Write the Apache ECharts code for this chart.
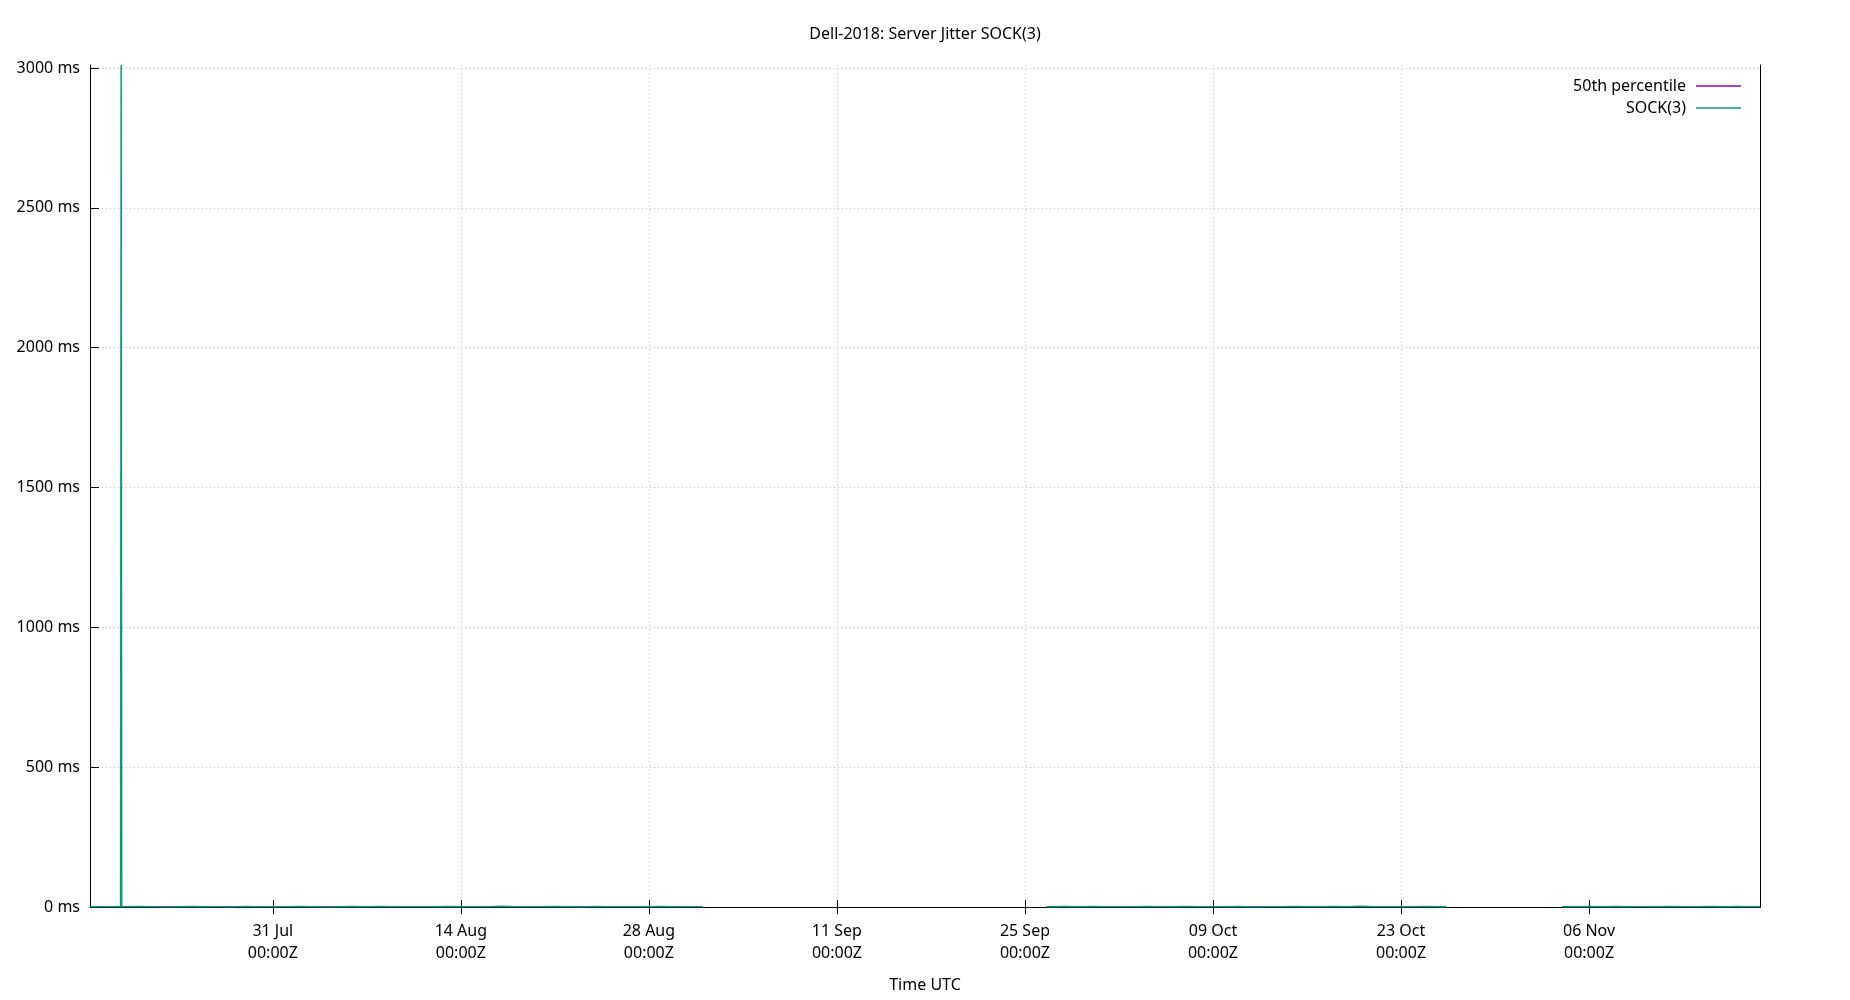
<!DOCTYPE html>
<html>
<head>
<meta charset="utf-8">
<title>Dell-2018: Server Jitter SOCK(3)</title>
<script src="https://cdn.jsdelivr.net/npm/echarts@6/dist/echarts.min.js"></script>
<style>
  html, body { margin: 0; padding: 0; background: #fff; }
  #chart { width: 1850px; height: 1000px; }
</style>
</head>
<body>
<div id="chart"></div>
<script>
// x ticks, every 14 days at 00:00 UTC
var tickDates = ['07-31', '08-14', '08-28', '09-11', '09-25', '10-09', '10-23', '11-06']
var tickLabels = ['31 Jul\n00:00Z', '14 Aug\n00:00Z', '28 Aug\n00:00Z', '11 Sep\n00:00Z',
                  '25 Sep\n00:00Z', '09 Oct\n00:00Z', '23 Oct\n00:00Z', '06 Nov\n00:00Z']

// SOCK(3) samples, 2018, UTC (null = no data)
var sockTimes = [
  '07-17 09:20', '07-18 00:00', '07-19 00:00', '07-19 16:00', '07-19 17:00', '07-19 18:00',
  '07-20 00:00', '07-21 00:00', '07-22 00:00', '07-23 00:00', '07-24 00:00', '07-25 00:00',
  '07-26 00:00', '07-27 00:00', '07-28 00:00', '07-29 00:00', '07-30 00:00', '07-31 00:00',
  '08-01 00:00', '08-02 00:00', '08-03 00:00', '08-04 00:00', '08-05 00:00', '08-06 00:00',
  '08-07 00:00', '08-08 00:00', '08-09 00:00', '08-10 00:00', '08-11 00:00', '08-12 00:00',
  '08-13 00:00', '08-14 00:00', '08-15 00:00', '08-16 00:00', '08-17 00:00', '08-18 00:00',
  '08-19 00:00', '08-20 00:00', '08-21 00:00', '08-22 00:00', '08-23 00:00', '08-24 00:00',
  '08-25 00:00', '08-26 00:00', '08-27 00:00', '08-28 00:00', '08-29 00:00', '08-30 00:00',
  '08-31 00:00', '09-01 00:00',
  '09-12 00:00',
  '09-26 15:00', '09-27 00:00', '09-28 00:00', '09-29 00:00', '09-30 00:00',
  '10-01 00:00', '10-02 00:00', '10-03 00:00', '10-04 00:00', '10-05 00:00', '10-06 00:00',
  '10-07 00:00', '10-08 00:00', '10-09 00:00', '10-10 00:00', '10-11 00:00', '10-12 00:00',
  '10-13 00:00', '10-14 00:00', '10-15 00:00', '10-16 00:00', '10-17 00:00', '10-18 00:00',
  '10-19 00:00', '10-20 00:00', '10-21 00:00', '10-22 00:00', '10-23 00:00', '10-24 00:00',
  '10-25 00:00', '10-26 00:00', '10-26 08:40',
  '10-30 00:00',
  '11-04 00:00', '11-05 00:00', '11-06 00:00', '11-07 00:00', '11-08 00:00', '11-09 00:00',
  '11-10 00:00', '11-11 00:00', '11-12 00:00', '11-13 00:00', '11-14 00:00', '11-15 00:00',
  '11-16 00:00', '11-17 00:00', '11-18 00:00', '11-18 17:30'
]
var sockMs = [
  0.9, 1.3, 0.7, 1.1, 3011, 0.8,
  0.5, 1.6, 0.9, 0.4, 1.2, 2.0,
  0.7, 1.0, 0.3, 1.5, 0.8, 1.1,
  0.6, 1.9, 1.2, 0.4, 0.9, 1.4,
  0.7, 2.2, 1.0, 0.5, 1.3, 0.8,
  1.7, 0.6, 1.1, 0.9, 2.4, 0.5,
  1.2, 0.7, 1.5, 1.0, 0.4, 1.8,
  0.9, 1.3, 0.6, 1.1, 2.0, 0.8,
  1.2, 0.7,
  null,
  1.0, 0.6, 1.4, 0.9, 1.8,
  0.7, 1.2, 0.5, 1.6, 1.0, 0.8,
  2.1, 0.6, 1.3, 0.9, 1.5, 0.4,
  1.1, 0.7, 1.9, 1.2, 0.5, 1.4,
  0.8, 2.3, 1.0, 0.6, 1.3, 0.9,
  1.7, 0.0, 0.8,
  null,
  1.1, 0.6, 1.5, 0.9, 2.0, 0.7,
  1.2, 0.5, 1.6, 1.0, 0.8, 1.4,
  0.6, 1.9, 1.1, 0.9
]
var p50Ms = 0.9

function utc(s) {
  // 'MM-DD HH:MM' -> ms, year 2018
  var p = s.split(/[- :]/)
  return Date.UTC(2018, +p[0] - 1, +p[1], +(p[2] || 0), +(p[3] || 0))
}

var tickValues = tickDates.map(utc)
var xMin = utc(sockTimes[0])
var xMax = utc(sockTimes[sockTimes.length - 1])
var yMax = Math.max.apply(null, sockMs.filter(function (v) { return v !== null }))

var sockData = sockTimes.map(function (t, i) { return [utc(t), sockMs[i]] })
var p50Data = sockTimes.map(function (t, i) { return [utc(t), sockMs[i] === null ? null : p50Ms] })

var font = 'Noto Sans'
var gridLine = { show: true, showMinLine: false, showMaxLine: false,
                 lineStyle: { color: '#c4c4c4', width: 1, type: [1, 3] } }

var chart = echarts.init(document.getElementById('chart'))
var option = {
  animation: false,
  backgroundColor: '#fff',
  textStyle: { fontFamily: font, color: '#000' },
  title: {
    text: 'Dell-2018: Server Jitter SOCK(3)',
    left: 'center',
    top: 24,
    padding: 0,
    textStyle: { fontFamily: font, fontSize: 16, fontWeight: 'normal', color: '#000', lineHeight: 20 }
  },
  legend: {
    orient: 'vertical',
    align: 'right',
    right: 104,
    top: 71,
    icon: 'rect',
    itemWidth: 45,
    itemHeight: 1.5,
    itemGap: 2,
    selectedMode: false,
    textStyle: { fontFamily: font, fontSize: 16, color: '#000', lineHeight: 20, padding: [0, 5, 0, 0] },
    data: ['50th percentile', 'SOCK(3)']
  },
  grid: { left: 90, right: 90, top: 65, bottom: 93, containLabel: false },
  xAxis: [
    {
      type: 'value',
      min: xMin,
      max: xMax,
      name: 'Time UTC',
      nameLocation: 'middle',
      nameGap: 70,
      nameTextStyle: { fontFamily: font, fontSize: 16, color: '#000' },
      axisLine: { show: true, lineStyle: { color: '#000', width: 1 } },
      axisTick: { show: true, inside: true, length: 7, customValues: tickValues,
                  lineStyle: { color: '#000' } },
      axisLabel: {
        customValues: tickValues,
        margin: 13,
        fontFamily: font, fontSize: 16, color: '#000', lineHeight: 22,
        formatter: function (v) {
          var i = tickValues.indexOf(v)
          return i < 0 ? '' : tickLabels[i]
        }
      },
      splitLine: gridLine
    },
    {
      // mirrored top border with ticks
      type: 'value',
      position: 'top',
      min: xMin,
      max: xMax,
      axisLine: { show: true, lineStyle: { color: '#000', width: 1 } },
      axisTick: { show: true, inside: true, length: 7, customValues: tickValues,
                  lineStyle: { color: '#000' } },
      axisLabel: { show: false },
      splitLine: { show: false }
    }
  ],
  yAxis: [
    {
      type: 'value',
      min: 0,
      max: yMax,
      interval: 500,
      axisLine: { show: true, lineStyle: { color: '#000', width: 1 } },
      axisTick: { show: true, inside: true, length: 9, lineStyle: { color: '#000' } },
      axisLabel: {
        margin: 10,
        showMaxLabel: false,
        fontFamily: font, fontSize: 16, color: '#000',
        formatter: function (v) { return v % 500 === 0 ? v + ' ms' : '' }
      },
      splitLine: gridLine
    },
    {
      // right border only
      type: 'value',
      position: 'right',
      min: 0,
      max: yMax,
      axisLine: { show: true, onZero: false, lineStyle: { color: '#000', width: 1 } },
      axisTick: { show: false },
      axisLabel: { show: false },
      splitLine: { show: false }
    }
  ],
  series: [
    {
      name: '50th percentile',
      type: 'line',
      color: '#9400d3',
      showSymbol: false,
      symbol: 'none',
      connectNulls: false,
      lineStyle: { width: 1, color: '#9400d3' },
      data: p50Data
    },
    {
      name: 'SOCK(3)',
      type: 'line',
      color: '#009e73',
      showSymbol: false,
      symbol: 'none',
      connectNulls: false,
      lineStyle: { width: 1.5, color: '#009e73' },
      data: sockData
    }
  ]
}
chart.setOption(option)
</script>
</body>
</html>
